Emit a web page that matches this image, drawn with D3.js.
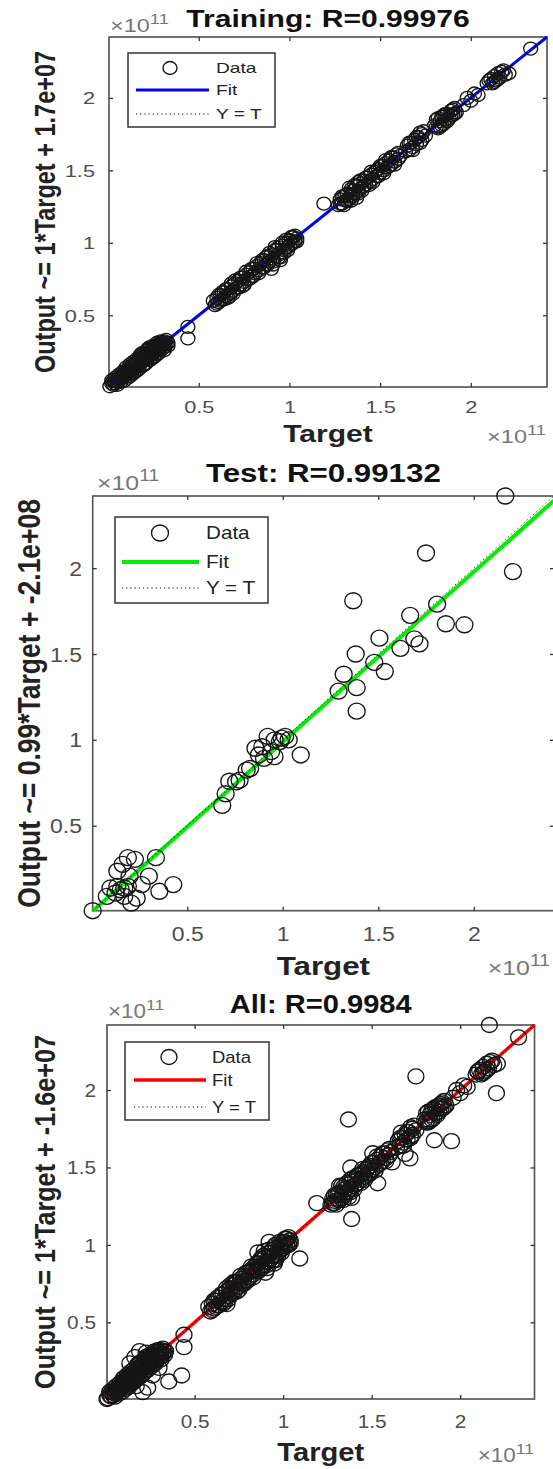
<!DOCTYPE html>
<html>
<head>
<meta charset="utf-8">
<script src="https://cdn.jsdelivr.net/npm/d3@7"></script>
<style>
  html, body { margin: 0; padding: 0; background: #fff; }
  svg { display: block; }
</style>
</head>
<body>
<div id="chart"></div>
<script>
// ---------------- DATA (values in units of 1e11) ----------------
const axisTicks = [0.5, 1, 1.5, 2];
const tickLabels = ["0.5", "1", "1.5", "2"];
const axisMin = 0.005, axisMax = 2.42;
const exponentLabel = "11";

const panelTitles = ["Training: R=0.99976", "Test: R=0.99132", "All: R=0.9984"];
const yAxisLabels = ["Output ~= 1*Target + 1.7e+07", "Output ~= 0.99*Target + -2.1e+08", "Output ~= 1*Target + -1.6e+07"];
const xAxisLabel = "Target";
const legendLabels = ["Data", "Fit", "Y = T"];
const fitSlopes = [1, 0.99, 1];
const fitIntercepts = [0.00017, -0.0021, -0.00016]; // 1.7e7, -2.1e8, -1.6e7 in 1e11 units

// [target, output]
const trainData = [
  [0.01,0.01],[0.02,0.03],[0.03,0.02],[0.03,0.05],[0.04,0.03],[0.05,0.06],[0.05,0.04],[0.06,0.07],[0.06,0.05],[0.07,0.08],
  [0.07,0.06],[0.08,0.09],[0.08,0.07],[0.09,0.10],[0.09,0.08],[0.10,0.12],[0.10,0.09],[0.11,0.11],[0.11,0.13],[0.12,0.10],
  [0.12,0.14],[0.13,0.12],[0.13,0.15],[0.14,0.13],[0.14,0.16],[0.15,0.14],[0.15,0.17],[0.16,0.15],[0.16,0.18],[0.17,0.16],
  [0.17,0.19],[0.18,0.17],[0.18,0.20],[0.19,0.18],[0.19,0.21],[0.20,0.19],[0.20,0.22],[0.21,0.20],[0.21,0.23],[0.22,0.21],
  [0.22,0.24],[0.23,0.22],[0.23,0.25],[0.24,0.23],[0.24,0.26],[0.25,0.24],[0.25,0.27],[0.26,0.25],[0.26,0.28],[0.27,0.26],
  [0.27,0.29],[0.28,0.27],[0.28,0.30],[0.29,0.28],[0.29,0.31],[0.30,0.29],[0.30,0.27],[0.31,0.30],[0.31,0.32],[0.32,0.30],
  [0.33,0.31],[0.22,0.26],[0.18,0.22],[0.25,0.21],[0.14,0.10],[0.31,0.26],
  [0.02,0.05],[0.04,0.07],[0.05,0.02],[0.06,0.09],[0.07,0.04],[0.08,0.11],[0.09,0.05],[0.10,0.14],[0.11,0.07],[0.12,0.16],
  [0.13,0.09],[0.14,0.18],[0.15,0.11],[0.16,0.20],[0.17,0.13],[0.18,0.23],[0.19,0.15],[0.20,0.24],[0.21,0.17],[0.22,0.27],
  [0.23,0.19],[0.24,0.28],[0.25,0.29],[0.26,0.22],[0.27,0.31],[0.28,0.24],[0.29,0.32],[0.30,0.31],[0.31,0.28],[0.32,0.33],
  [0.33,0.29],[0.16,0.12],[0.20,0.16],[0.24,0.20],[0.12,0.08],[0.19,0.24],[0.23,0.28],[0.27,0.23],
  [0.44,0.42],[0.44,0.34],
  [0.58,0.60],[0.59,0.57],[0.60,0.62],[0.61,0.59],[0.62,0.64],[0.62,0.60],[0.63,0.61],[0.64,0.66],[0.65,0.63],[0.66,0.68],
  [0.67,0.65],[0.68,0.70],[0.69,0.67],[0.70,0.72],[0.71,0.69],[0.72,0.74],[0.73,0.71],[0.74,0.76],[0.75,0.73],[0.76,0.78],
  [0.77,0.75],[0.78,0.80],[0.79,0.77],[0.80,0.82],[0.81,0.79],[0.82,0.84],[0.83,0.81],[0.84,0.86],[0.85,0.83],[0.86,0.88],
  [0.87,0.85],[0.88,0.91],[0.89,0.87],[0.90,0.92],[0.90,0.82],[0.91,0.89],[0.92,0.95],[0.93,0.91],[0.94,0.97],[0.95,0.88],
  [0.95,0.93],[0.96,0.98],[0.97,0.95],[0.98,1.00],[0.99,0.97],[1.00,1.02],[1.01,0.99],[1.02,1.04],[1.03,1.01],[1.04,1.03],
  [0.66,0.62],[0.74,0.70],
  [0.60,0.58],[0.61,0.64],[0.63,0.66],[0.64,0.61],[0.65,0.68],[0.67,0.63],[0.68,0.72],[0.69,0.65],[0.70,0.74],[0.72,0.69],
  [0.73,0.76],[0.75,0.71],[0.76,0.80],[0.78,0.75],[0.79,0.82],[0.80,0.77],[0.82,0.86],[0.83,0.79],[0.85,0.88],[0.86,0.83],
  [0.87,0.90],[0.88,0.85],[0.89,0.93],[0.91,0.87],[0.92,0.97],[0.93,0.95],[0.94,0.90],[0.96,1.00],[0.97,0.93],[0.98,1.02],
  [0.99,0.95],[1.00,0.98],[1.01,1.04],[1.02,1.00],[1.03,1.05],[1.04,1.01],[0.91,0.85],[0.95,0.90],
  [1.19,1.27],
  [1.27,1.26],[1.28,1.30],[1.29,1.27],[1.30,1.32],[1.31,1.29],[1.32,1.34],[1.33,1.30],[1.33,1.38],[1.34,1.33],[1.35,1.36],
  [1.36,1.34],[1.37,1.39],[1.38,1.36],[1.39,1.41],[1.40,1.38],[1.41,1.43],[1.42,1.40],[1.43,1.45],[1.44,1.42],[1.45,1.47],
  [1.46,1.44],[1.47,1.49],[1.48,1.46],[1.49,1.51],[1.50,1.48],[1.51,1.53],[1.52,1.50],[1.53,1.55],[1.54,1.52],[1.55,1.57],
  [1.56,1.54],[1.57,1.59],[1.58,1.56],[1.59,1.61],[1.60,1.58],[1.61,1.60],[1.30,1.26],[1.37,1.31],
  [1.28,1.27],[1.29,1.32],[1.31,1.33],[1.32,1.29],[1.34,1.37],[1.35,1.32],[1.36,1.40],[1.38,1.34],[1.39,1.43],[1.40,1.36],
  [1.41,1.39],[1.42,1.45],[1.44,1.40],[1.45,1.49],[1.46,1.42],[1.48,1.50],[1.49,1.46],[1.50,1.53],[1.52,1.48],[1.53,1.57],
  [1.55,1.53],[1.56,1.59],[1.58,1.54],[1.60,1.62],[1.34,1.29],[1.38,1.42],
  [1.64,1.63],[1.65,1.67],[1.66,1.64],[1.67,1.69],[1.68,1.66],[1.69,1.71],[1.70,1.68],[1.71,1.73],[1.72,1.76],[1.73,1.71],
  [1.74,1.77],[1.75,1.74],[1.66,1.69],[1.68,1.64],[1.70,1.73],[1.72,1.69],[1.73,1.75],
  [1.80,1.81],[1.81,1.85],[1.82,1.79],[1.83,1.84],[1.84,1.87],[1.85,1.82],[1.85,1.88],[1.86,1.85],[1.87,1.89],[1.88,1.86],
  [1.89,1.91],[1.90,1.88],[1.91,1.93],[1.92,1.90],[1.83,1.80],[1.82,1.86],[1.84,1.81],[1.86,1.89],[1.87,1.84],[1.89,1.88],
  [1.90,1.92],[1.91,1.89],[1.81,1.80],
  [1.96,1.95],[1.98,2.00],[2.00,1.98],[2.02,2.03],[2.04,2.02],
  [2.09,2.10],[2.11,2.13],[2.12,2.10],[2.13,2.15],[2.14,2.12],[2.15,2.17],[2.16,2.14],[2.18,2.19],[2.21,2.17],
  [2.10,2.12],[2.13,2.11],[2.15,2.13],[2.17,2.18],[2.19,2.16],
  [2.33,2.34]
];

const testData = [
  [2.165,2.42],[1.75,2.088],[2.205,1.98],[1.369,1.81],[1.808,1.79],[1.667,1.725],[1.854,1.676],[1.951,1.67],
  [1.506,1.592],[1.689,1.588],[1.716,1.559],[1.616,1.533],[1.382,1.50],[1.479,1.451],[1.534,1.398],[1.319,1.382],
  [1.292,1.284],[1.387,1.304],[1.387,1.167],[1.094,0.912],
  [0.994,1.01],[1.012,1.02],[0.985,0.99],[1.031,1.00],[0.957,1.00],[0.921,1.02],[0.893,0.96],[0.875,0.912],
  [0.939,0.931],[0.957,0.902],[0.902,0.892],[0.857,0.951],[0.829,0.833],[0.811,0.824],[0.774,0.765],[0.756,0.755],
  [0.72,0.759],[0.701,0.686],[0.683,0.618],
  [0.336,0.314],[0.226,0.304],[0.189,0.314],[0.299,0.206],[0.262,0.157],[0.354,0.118],[0.427,0.157],[0.134,0.235],
  [0.162,0.275],[0.098,0.137],[0.079,0.088],[0.152,0.127],[0.17,0.088],[0.207,0.049],[0.235,0.078],[0.189,0.147],
  [0.134,0.147],[0.198,0.206],[0.17,0.137],[0.125,0.108],[0.005,0.005]
];

const valData = [
  [0.12,0.13],[0.27,0.25],[0.70,0.71],[0.85,0.84],[1.45,1.46],[1.72,1.70],[1.88,1.90],[2.10,2.12]
];

const panelData = [trainData, testData, trainData.concat(valData, testData)];

// ---------------- LAYOUT / STYLE ----------------
const FONT = "'Liberation Sans', Arial, Helvetica, sans-serif";
const layout = [
  { color: "#0000ff", L: 109, R: 547, T: 37, B: 387, fs: 23.5, sx: 1.28, tfs: 17, lfs: 15, rx: 7, ry: 6.5, lw: 3,
    titleY: 27, tickY: 413, xlabY: 442, ylabX: 55, yTickX: 95, expTop: [110, 32], expBot: [546, 443],
    leg: { x0: 128, x1: 275, y0: 53, y1: 127, rows: [68, 90, 114], mx: 170, l0: 136, l1: 209, tx: 216 } },
  { color: "#00ee00", L: 92.7, R: 554, T: 496, B: 910.7, fs: 26.5, sx: 1.18, tfs: 19.5, lfs: 17.5, rx: 8.5, ry: 8, lw: 4,
    titleY: 482, tickY: 941, xlabY: 975, ylabX: 40, yTickX: 82, expTop: [97, 490], expBot: [550, 975],
    leg: { x0: 115, x1: 268, y0: 517, y1: 603, rows: [533, 562, 588], mx: 160, l0: 122, l1: 199, tx: 206 } },
  { color: "#ff0000", L: 107, R: 534.5, T: 1025, B: 1399, fs: 25.2, sx: 1.155, tfs: 18, lfs: 16, rx: 8, ry: 7.5, lw: 3.5,
    titleY: 1013, tickY: 1428, xlabY: 1461, ylabX: 55, yTickX: 96, expTop: [108, 1018], expBot: [534, 1462],
    leg: { x0: 125, x1: 269, y0: 1042, y1: 1120, rows: [1057, 1080, 1107], mx: 169, l0: 134, l1: 206, tx: 212 } }
];

const W = 553, H = 1469;
const svg = d3.select("#chart").append("svg").attr("width", W).attr("height", H)
  .style("font-family", FONT);

function stretchedText(g, x, y, str, o) {
  return g.append("text")
    .attr("transform", `translate(${x},${y}) scale(${o.sx},1)` + (o.rotate ? " rotate(-90)" : ""))
    .attr("text-anchor", o.anchor || "start")
    .attr("font-size", o.fs)
    .attr("font-weight", o.weight || "normal")
    .attr("fill", o.fill || "#000")
    .text(str);
}

function exponentText(g, x, y, o) {
  const t = g.append("text")
    .attr("transform", `translate(${x},${y}) scale(${o.sx},1)`)
    .attr("text-anchor", o.anchor || "start")
    .attr("font-size", o.fs)
    .attr("fill", "#777");
  t.append("tspan").text("\u00d710");
  t.append("tspan").attr("font-size", o.fs * 0.78).attr("dy", -o.fs * 0.42).text(exponentLabel);
  return t;
}

layout.forEach((P, i) => {
  const g = svg.append("g");
  const x = d3.scaleLinear().domain([axisMin, axisMax]).range([P.L, P.R]);
  const y = d3.scaleLinear().domain([axisMin, axisMax]).range([P.B, P.T]);
  const data = panelData[i];

  // axes box
  g.append("rect").attr("x", P.L).attr("y", P.T).attr("width", P.R - P.L).attr("height", P.B - P.T)
    .attr("fill", "#fff").attr("stroke", "#5a5a5a").attr("stroke-width", 1.7);

  // tick marks (inside, on all four sides)
  const tickFmt = (d) => tickLabels[axisTicks.indexOf(d)];
  const bottom = g.append("g").attr("transform", `translate(0,${P.B})`)
    .call(d3.axisBottom(x).tickValues(axisTicks).tickSizeInner(-4).tickSizeOuter(0).tickPadding(0).tickFormat(tickFmt));
  const top = g.append("g").attr("transform", `translate(0,${P.T})`)
    .call(d3.axisTop(x).tickValues(axisTicks).tickSizeInner(-4).tickSizeOuter(0).tickFormat(""));
  const left = g.append("g").attr("transform", `translate(${P.L},0)`)
    .call(d3.axisLeft(y).tickValues(axisTicks).tickSizeInner(-4).tickSizeOuter(0).tickPadding(0).tickFormat(tickFmt));
  const right = g.append("g").attr("transform", `translate(${P.R},0)`)
    .call(d3.axisRight(y).tickValues(axisTicks).tickSizeInner(-4).tickSizeOuter(0).tickFormat(""));
  [bottom, top, left, right].forEach(a => {
    a.select(".domain").remove();
    a.selectAll(".tick line").attr("stroke", "#333").attr("stroke-width", 1.3);
  });
  bottom.selectAll(".tick text")
    .attr("y", P.tickY - P.B).attr("dy", null)
    .attr("transform", `scale(${P.sx},1)`)
    .attr("font-size", P.tfs).attr("font-family", FONT).attr("fill", "#4d4d4d");
  left.selectAll(".tick text")
    .attr("x", (P.yTickX - P.L) / P.sx).attr("dy", "0.36em")
    .attr("transform", `scale(${P.sx},1)`)
    .attr("font-size", P.tfs).attr("font-family", FONT).attr("fill", "#4d4d4d");

  // fit line, then Y = T dotted line
  const fitPts = [axisMin, axisMax].map(t => [t, fitSlopes[i] * t + fitIntercepts[i]]);
  g.append("line")
    .attr("x1", x(fitPts[0][0])).attr("y1", y(fitPts[0][1]))
    .attr("x2", x(fitPts[1][0])).attr("y2", y(fitPts[1][1]))
    .attr("stroke", P.color).attr("stroke-width", P.lw);
  g.append("line")
    .attr("x1", x(axisMin)).attr("y1", y(axisMin)).attr("x2", x(axisMax)).attr("y2", y(axisMax))
    .attr("stroke", "#000").attr("stroke-width", 1).attr("stroke-dasharray", "1.2,3").attr("opacity", 0.8);

  // data markers
  g.append("g").selectAll("ellipse").data(data).join("ellipse")
    .attr("cx", d => x(d[0])).attr("cy", d => y(d[1]))
    .attr("rx", P.rx).attr("ry", P.ry)
    .attr("fill", "none").attr("stroke", "#151515").attr("stroke-width", 1.35);

  // legend
  const L = P.leg;
  g.append("rect").attr("x", L.x0).attr("y", L.y0).attr("width", L.x1 - L.x0).attr("height", L.y1 - L.y0)
    .attr("fill", "#fff").attr("stroke", "#333").attr("stroke-width", 1.5);
  g.append("ellipse").attr("cx", L.mx).attr("cy", L.rows[0]).attr("rx", P.rx).attr("ry", P.ry)
    .attr("fill", "none").attr("stroke", "#151515").attr("stroke-width", 1.35);
  g.append("line").attr("x1", L.l0).attr("x2", L.l1).attr("y1", L.rows[1]).attr("y2", L.rows[1])
    .attr("stroke", P.color).attr("stroke-width", P.lw);
  g.append("line").attr("x1", L.l0).attr("x2", L.l1).attr("y1", L.rows[2]).attr("y2", L.rows[2])
    .attr("stroke", "#000").attr("stroke-width", 1).attr("stroke-dasharray", "1.2,3");
  legendLabels.forEach((lab, k) => {
    stretchedText(g, L.tx, L.rows[k] + P.lfs * 0.36, lab, { sx: P.sx, fs: P.lfs, fill: "#222" });
  });

  // title, labels, exponents
  const cx = (P.L + P.R) / 2, cy = (P.T + P.B) / 2;
  stretchedText(g, cx, P.titleY, panelTitles[i], { sx: P.sx, fs: P.fs, weight: "bold", anchor: "middle", fill: "#111" });
  stretchedText(g, cx, P.xlabY, xAxisLabel, { sx: P.sx, fs: P.fs, weight: "bold", anchor: "middle", fill: "#222" });
  stretchedText(g, P.ylabX, cy, yAxisLabels[i], { sx: P.sx, fs: P.fs, weight: "bold", anchor: "middle", fill: "#222", rotate: true });
  exponentText(g, P.expTop[0], P.expTop[1], { sx: P.sx, fs: P.tfs * 1.08 });
  exponentText(g, P.expBot[0], P.expBot[1], { sx: P.sx, fs: P.tfs * 1.08, anchor: "end" });
});
</script>
</body>
</html>
